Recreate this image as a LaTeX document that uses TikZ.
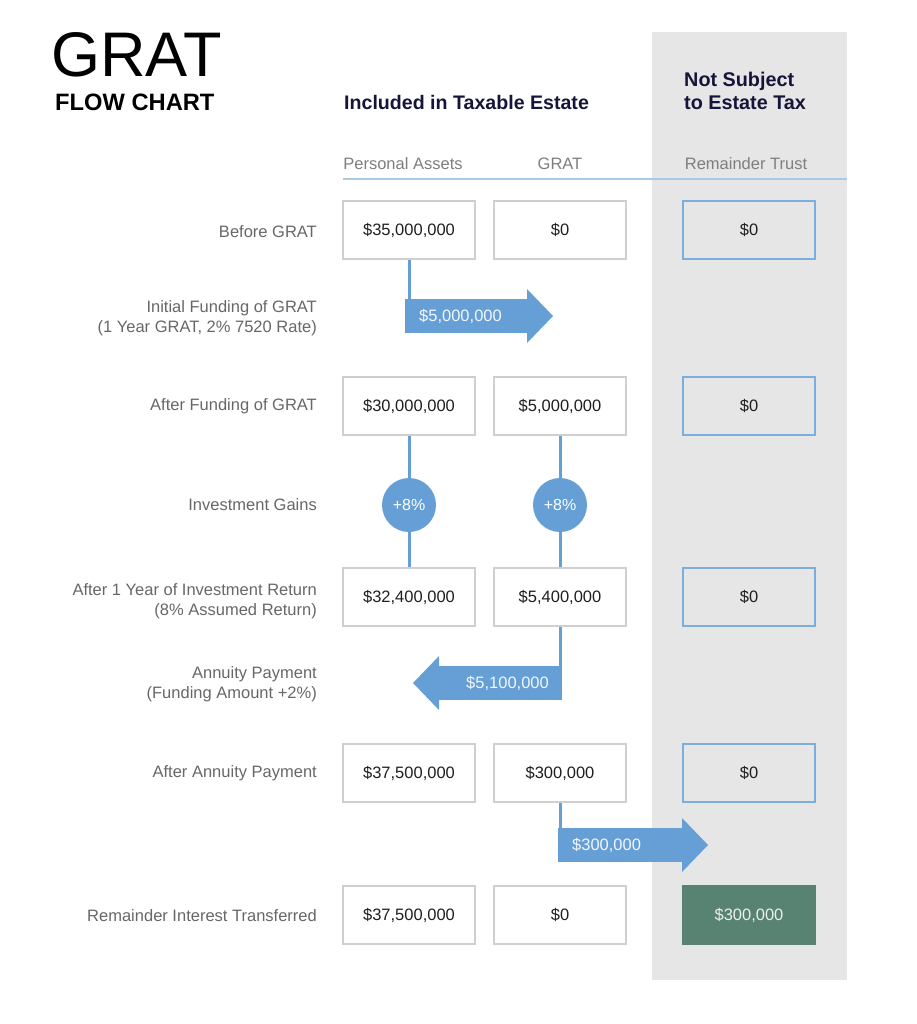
\documentclass[tikz,border=0pt]{standalone}
\usepackage{fontspec}
\setmainfont{Liberation Sans}
\usetikzlibrary{arrows.meta}

\definecolor{flowblue}{HTML}{659FD6}
\definecolor{boxgray}{HTML}{CFCFCF}
\definecolor{trustblue}{HTML}{7DADDC}
\definecolor{bandgray}{HTML}{E6E6E6}
\definecolor{labelgray}{HTML}{676767}
\definecolor{headnavy}{HTML}{15153A}
\definecolor{trustgreen}{HTML}{588272}
\definecolor{rulelight}{HTML}{A9C9E7}

\tikzset{
  valbox/.style={draw=boxgray, line width=1.5pt, fill=white, minimum width=132pt, minimum height=58pt, inner sep=0pt, text=black!88, font=\fontsize{16.5}{19}\selectfont},
  trustbox/.style={valbox, draw=trustblue, fill=bandgray},
  rowlabel/.style={anchor=east, align=right, inner sep=0pt, text=labelgray, font=\fontsize{16.5}{20}\selectfont},
  colhead/.style={inner sep=0pt, text=labelgray!85, font=\fontsize{16.5}{20}\selectfont},
  link/.style={draw=flowblue, line width=3pt},
  fatarrow/.style={draw=flowblue, line width=34pt, -{Triangle[length=26pt, width=54pt, line width=0pt]}},
  gaincircle/.style={circle, fill=flowblue, minimum size=54pt, inner sep=0pt, text=white, font=\fontsize{16}{18}\selectfont},
  arrowtext/.style={inner sep=0pt, text=white!92!flowblue, font=\fontsize{16.5}{18}\selectfont},
}

\begin{document}
\begin{tikzpicture}[x=1pt, y=-1pt]
\useasboundingbox (0,0) rectangle (916,1024);
% band of the remainder trust
\fill[bandgray] (652,32) rectangle (847,980);
\draw[rulelight, line width=1.5pt] (343,179) -- (847,179);

% titles
\node[anchor=base west, inner sep=0pt, font=\fontsize{63}{63}\selectfont] (title) at (51,77) {GRAT};
\node[anchor=base west, inner sep=0pt, font=\bfseries\fontsize{23.7}{24}\selectfont] (subtitle) at (55,111) {FLOW CHART};
\node[anchor=base west, inner sep=0pt, text=headnavy, font=\bfseries\fontsize{19.6}{23}\selectfont] (taxable) at (344,110) {Included in Taxable Estate};
\node[anchor=north west, align=left, inner sep=0pt, text=headnavy, font=\bfseries\fontsize{19.8}{23}\selectfont] (nottaxed) at (684,72) {Not Subject\\to Estate Tax};

% column heads
\node[colhead] (hpa) at (403,164) {Personal Assets};
\node[colhead] (hgr) at (560,164) {GRAT};
\node[colhead] (hrt) at (746,164) {Remainder Trust};

% row labels
\node[rowlabel] (lab1) at (317,232) {Before GRAT};
\node[rowlabel] (lab2) at (317,318) {Initial Funding of GRAT\\(1 Year GRAT, 2\% 7520 Rate)};
\node[rowlabel] (lab3) at (317,406) {After Funding of GRAT};
\node[rowlabel] (lab4) at (317,505) {Investment Gains};
\node[rowlabel] (lab5) at (317,601) {After 1 Year of Investment Return\\(8\% Assumed Return)};
\node[rowlabel] (lab6) at (317,684) {Annuity Payment\hspace{4pt}\\(Funding Amount +2\%)};
\node[rowlabel] (lab7) at (317,773) {After Annuity Payment};
\node[rowlabel] (lab8) at (317,916) {Remainder Interest Transferred};

% value boxes
\node[valbox] (pa1) at (409,230) {\$35,000,000};
\node[valbox] (gr1) at (560,230) {\$0};
\node[trustbox] (rt1) at (749,230) {\$0};
\node[valbox] (pa2) at (409,406) {\$30,000,000};
\node[valbox] (gr2) at (560,406) {\$5,000,000};
\node[trustbox] (rt2) at (749,406) {\$0};
\node[valbox] (pa3) at (409,597) {\$32,400,000};
\node[valbox] (gr3) at (560,597) {\$5,400,000};
\node[trustbox] (rt3) at (749,597) {\$0};
\node[valbox] (pa4) at (409,773) {\$37,500,000};
\node[valbox] (gr4) at (560,773) {\$300,000};
\node[trustbox] (rt4) at (749,773) {\$0};
\node[valbox] (pa5) at (409,915) {\$37,500,000};
\node[valbox] (gr5) at (560,915) {\$0};
\node[valbox, draw=trustgreen, fill=trustgreen, text=white!88!trustgreen] (rt5) at (749,915) {\$300,000};

% funding of the GRAT
\coordinate (a1s) at (405,316);
\coordinate (a1e) at (553,316);
\draw[link] (pa1.south) -- (pa1.south |- a1s);
\draw[fatarrow] (a1s) -- (a1e);
\node[arrowtext, anchor=west] (t1) at ([xshift=14pt]a1s) {\$5,000,000};

% investment gains
\node[gaincircle] (gpa) at (pa2.south |- lab4) {+8\%};
\node[gaincircle] (ggr) at (gr2.south |- lab4) {+8\%};
\draw[link] (pa2.south) -- (gpa) -- (pa3.north);
\draw[link] (gr2.south) -- (ggr) -- (gr3.north);

% annuity payment
\coordinate (a2s) at (562,683);
\coordinate (a2e) at (413,683);
\draw[link] (gr3.south) -- (gr3.south |- a2s);
\draw[fatarrow] (a2s) -- (a2e);
\node[arrowtext, anchor=east] (t2) at ([xshift=-13pt]a2s) {\$5,100,000};

% remainder to the trust
\coordinate (a3s) at (558,845);
\coordinate (a3e) at (708,845);
\draw[link] (gr4.south) -- (gr4.south |- a3s);
\draw[fatarrow] (a3s) -- (a3e);
\node[arrowtext, anchor=west] (t3) at ([xshift=14pt]a3s) {\$300,000};
\end{tikzpicture}
\end{document}
